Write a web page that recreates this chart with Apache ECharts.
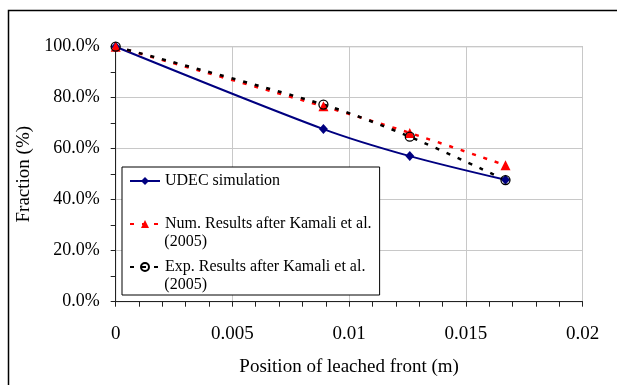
<!DOCTYPE html>
<html>
<head>
<meta charset="utf-8">
<script src="https://cdn.jsdelivr.net/npm/echarts@6/dist/echarts.min.js"></script>
<style>
html,body{margin:0;padding:0;background:#fff;}
#chart{width:617px;height:385px;}
</style>
</head>
<body>
<div id="chart"></div>
<script>
// Data
var positions = [0, 0.0089, 0.0126, 0.0167];          // Position of leached front (m)
var udecValues = [100, 67.7, 57.1, 47.8];              // UDEC simulation (%)
var numValues = [100, 76.6, 66.2, 53.5];               // Num. Results after Kamali et al. (2005)
var expValues = [100, 77.3, 64.7, 47.7];               // Exp. Results after Kamali et al. (2005)
var seriesNames = ['UDEC simulation', 'Num. Results after Kamali et al.', 'Exp. Results after Kamali et al.'];
var yearNote = '(2005)';
var xTitle = 'Position of leached front (m)';
var yTitle = 'Fraction (%)';

function pairs(xs, ys){ return xs.map(function(x,i){ return [x, ys[i]]; }); }

var FONT = 'Liberation Serif';
var chart = echarts.init(document.getElementById('chart'), null, {renderer:'canvas'});

chart.setOption({
  backgroundColor: '#fff',
  animation: false,
  grid: {left: 115.7, right: 34.5, top: 46.7, bottom: 83.3, show: true, borderColor: '#999', borderWidth: 1, containLabel: false},
  xAxis: {
    type: 'value', min: 0, max: 0.02, interval: 0.005,
    name: xTitle, nameLocation: 'middle', nameGap: 56,
    nameTextStyle: {fontFamily: FONT, fontSize: 19, color: '#000'},
    axisLine: {show: true, onZero: false, lineStyle: {color: '#222', width: 1}},
    axisTick: {show: true, length: 5, lineStyle: {color: '#222'}},
    minorTick: {show: true, splitNumber: 5, length: 5, lineStyle: {color: '#222'}},
    axisLabel: {fontFamily: FONT, fontSize: 19, color: '#000', margin: 23},
    splitLine: {show: true, lineStyle: {color: '#c8c8c8', width: 1}}
  },
  yAxis: {
    type: 'value', min: 0, max: 100, interval: 20,
    name: yTitle, nameLocation: 'middle', nameGap: 76,
    nameTextStyle: {fontFamily: FONT, fontSize: 19, color: '#000'},
    axisLine: {show: true, lineStyle: {color: '#222', width: 1}},
    axisTick: {show: true, length: 5, lineStyle: {color: '#222'}},
    minorTick: {show: true, splitNumber: 2, length: 5, lineStyle: {color: '#222'}},
    axisLabel: {fontFamily: FONT, fontSize: 18, color: '#000', margin: 16,
      formatter: function(v){ return v.toFixed(1) + '%'; }},
    splitLine: {show: true, lineStyle: {color: '#c8c8c8', width: 1}}
  },
  legend: {
    orient: 'vertical', left: 122, top: 167,
    padding: [5, 8, 19, 7], itemGap: 25, itemWidth: 30, itemHeight: 10,
    backgroundColor: '#fff', borderColor: '#000', borderWidth: 1,
    textStyle: {fontFamily: FONT, fontSize: 16, color: '#000', lineHeight: 18},
    data: seriesNames
  },
  graphic: [
    {type: 'rect', silent: true, z: 0, shape: {x: 8.5, y: 10.5, width: 700, height: 500},
     style: {fill: 'none', stroke: '#000', lineWidth: 1.5}},
    {type: 'text', z: 100, x: 164.3, y: 241.7,
     style: {text: yearNote, fontFamily: FONT, fontSize: 16, fill: '#000', verticalAlign: 'middle'}},
    {type: 'text', z: 100, x: 164.3, y: 285,
     style: {text: yearNote, fontFamily: FONT, fontSize: 16, fill: '#000', verticalAlign: 'middle'}}
  ],
  series: [
    {name: seriesNames[0], type: 'line', data: pairs(positions, udecValues), smooth: 0.3,
     symbol: 'diamond', symbolSize: [9, 10],
     lineStyle: {color: '#000080', width: 2}, itemStyle: {color: '#000080'}},
    {name: seriesNames[1], type: 'line', data: pairs(positions, numValues), smooth: 0.3,
     symbol: 'triangle', symbolSize: 10,
     lineStyle: {color: '#ff0000', width: 2.5, type: [4, 8]}, itemStyle: {color: '#ff0000'}},
    {name: seriesNames[2], type: 'line', data: pairs(positions, expValues), smooth: 0.3,
     symbol: 'circle', symbolSize: 9,
     lineStyle: {color: '#000', width: 2.5, type: [4, 8]},
     itemStyle: {color: 'rgba(255,255,255,0)', borderColor: '#000', borderWidth: 1.3}}
  ]
});
</script>
</body>
</html>
